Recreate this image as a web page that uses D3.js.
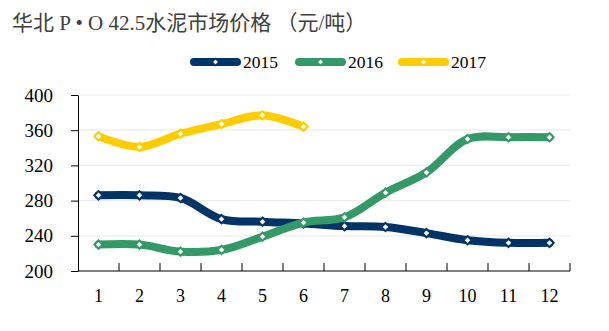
<!DOCTYPE html>
<html><head><meta charset="utf-8">
<script src="https://cdn.jsdelivr.net/npm/d3@7"></script>
<style>body{margin:0;background:#fff}svg{display:block}</style>
</head><body>
<svg id="c" width="609" height="331"></svg>
<script>
const months = ["1","2","3","4","5","6","7","8","9","10","11","12"];
const s2015 = [286,286,283,259,256,254,251,250,243,235,232,232];
const s2016 = [230,230,222,224,239,255,261,289,312,350,352,352];
const s2017 = [353,341,356,367,377,364];
const seriesNames = ["2015","2016","2017"];
const seriesColors = ["#003366","#339966","#FFCC00"];
const yTicks = [200,240,280,320,360,400];
const title = "华北 P • O 42.5水泥市场价格 （元/吨）";

const svg = d3.select("#c");
const L=78, R=570, T=95, B=271;
const x = d3.scaleBand().domain(months).range([L,R]).paddingInner(0).paddingOuter(0);
const y = d3.scaleLinear().domain([200,400]).range([B,T]);
const serif = "'Liberation Serif','Times New Roman',serif";

// title
svg.append("text").attr("x",12).attr("y",30).attr("font-family","'Liberation Serif','Noto Sans CJK SC',serif")
  .attr("font-size",21).attr("fill","#404040").text(title);

// grid
svg.append("g").selectAll("line").data(yTicks.filter(d=>d>200)).join("line")
  .attr("x1",L).attr("x2",R).attr("y1",d=>y(d)).attr("y2",d=>y(d))
  .attr("stroke","#ececec").attr("stroke-width",1.2);

// y axis
const ya = svg.append("g").attr("transform",`translate(${L},0)`)
  .call(d3.axisLeft(y).tickValues(yTicks).tickSize(7).tickPadding(18).tickSizeOuter(0));
ya.select(".domain").attr("stroke","#000");
ya.selectAll(".tick line").attr("stroke","#000");
ya.selectAll("text").attr("font-family",serif).attr("font-size",19).attr("fill","#000");

// x axis
const xa = svg.append("g").attr("transform",`translate(0,${B})`)
  .call(d3.axisBottom(x).tickSize(0).tickPadding(25));
xa.select(".domain").attr("stroke","#000").attr("d",`M${L},0H${R}`);
xa.selectAll("text").attr("font-family",serif).attr("font-size",18).attr("fill","#000").attr("dy","0.32em");
const bounds = months.map(m=>x(m)).slice(1).concat([R]);
svg.append("g").selectAll("line").data(bounds).join("line")
  .attr("x1",d=>d).attr("x2",d=>d).attr("y1",B).attr("y2",B-8).attr("stroke","#000");

// series
const data = [s2015,s2016,s2017];
const line = d3.line().x((d,i)=>x(months[i])+x.bandwidth()/2).y(d=>y(d)).curve(d3.curveCatmullRom.alpha(0.5));
const diamond = d3.symbol().type(d3.symbolDiamond2).size(44);
const diamondS = d3.symbol().type(d3.symbolDiamond2).size(30);
data.forEach((vals,k)=>{
  const g = svg.append("g");
  g.append("path").attr("d",line(vals)).attr("fill","none").attr("stroke",seriesColors[k])
    .attr("stroke-width",8).attr("stroke-linecap","round").attr("stroke-linejoin","round");
  g.selectAll("path.m").data(vals).join("path").attr("class","m")
    .attr("transform",(d,i)=>`translate(${x(months[i])+x.bandwidth()/2},${y(d)})`)
    .attr("d",diamond).attr("fill","#fff").attr("stroke",seriesColors[k]).attr("stroke-width",2);
});

// legend
const legX = [191,296,399];
seriesNames.forEach((n,k)=>{
  const g = svg.append("g").attr("transform",`translate(${legX[k]},62)`);
  g.append("line").attr("x1",3).attr("x2",46).attr("stroke",seriesColors[k]).attr("stroke-width",8).attr("stroke-linecap","round");
  g.append("path").attr("transform","translate(24.5,0)").attr("d",diamondS).attr("fill","#fff").attr("stroke",seriesColors[k]).attr("stroke-width",1.5);
  g.append("text").attr("x",52).attr("y",6).attr("font-family",serif).attr("font-size",17.5).attr("fill","#000").text(n);
});
</script>
</body></html>
